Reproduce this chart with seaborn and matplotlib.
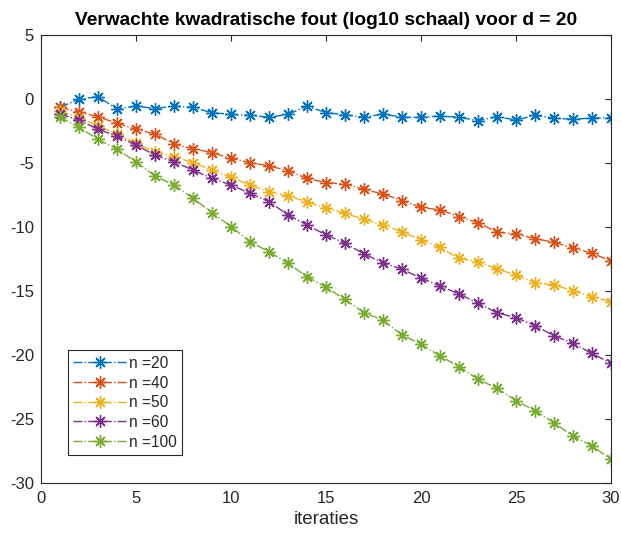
import numpy as np
import pandas as pd
import matplotlib
matplotlib.use("Agg")
import matplotlib.pyplot as plt
import seaborn as sns

iterations = list(range(1, 31))
labels = ["n =20", "n =40", "n =50", "n =60", "n =100"]
n20 = [-0.65, -0.02, 0.18, -0.78, -0.55, -0.75, -0.55, -0.65, -1.07, -1.2, -1.28, -1.43, -1.2, -0.55, -1.07,
       -1.23, -1.43, -1.17, -1.43, -1.43, -1.33, -1.43, -1.69, -1.38, -1.64, -1.28, -1.48, -1.59, -1.48, -1.48]
n40 = [-0.65, -1.02, -1.38, -1.9, -2.37, -2.73, -3.52, -3.88, -4.19, -4.64, -4.97, -5.23, -5.6, -6.2, -6.54,
       -6.64, -7.06, -7.42, -7.94, -8.46, -8.67, -9.19, -9.66, -10.4, -10.55, -10.9, -11.2, -11.66, -12.05, -12.66]
n50 = [-0.95, -1.45, -2.1, -2.75, -3.45, -4.15, -4.5, -4.97, -5.55, -6.12, -6.72, -7.24, -7.58, -8.02, -8.54,
       -8.93, -9.4, -9.84, -10.37, -11.0, -11.6, -12.45, -12.7, -13.28, -13.75, -14.35, -14.53, -14.97, -15.44, -15.83]
n60 = [-1.17, -1.64, -2.37, -2.89, -3.6, -4.38, -4.9, -5.55, -6.2, -6.72, -7.37, -8.02, -9.06, -9.84, -10.62,
       -11.27, -12.1, -12.8, -13.3, -14.0, -14.6, -15.23, -15.96, -16.7, -17.1, -17.7, -18.5, -19.1, -19.87, -20.65]
n100 = [-1.43, -2.21, -3.15, -3.93, -4.9, -6.02, -6.72, -7.76, -8.88, -9.97, -11.15, -11.93, -12.84, -13.88, -14.71,
        -15.65, -16.7, -17.27, -18.44, -19.14, -20.08, -20.9, -21.9, -22.6, -23.57, -24.35, -25.29, -26.33, -27.1, -28.15]
series = [n20, n40, n50, n60, n100]
colors = ["#0072BD", "#D95319", "#EDB120", "#7E2F8E", "#77AC30"]

sns.set_style("white")
plt.rcParams["font.family"] = ["Liberation Sans", "DejaVu Sans"]
plt.rcParams["axes.unicode_minus"] = False

fig = plt.figure(figsize=(6.21, 5.44), dpi=100)
ax = fig.add_axes([41 / 621, 61 / 544, 570 / 621, 448 / 544])

asterisk = (8, 2, 0)
for lab, vals, col in zip(labels, series, colors):
    df = pd.DataFrame({"iteraties": iterations, "y": vals})
    sns.lineplot(data=df, x="iteraties", y="y", ax=ax, color=col, marker=asterisk,
                 markersize=9, markeredgecolor=col, markerfacecolor=col, markeredgewidth=1.0,
                 linestyle="-.", linewidth=1.0, label=lab)

ax.set_xlim(0, 30)
ax.set_ylim(-30, 5)
ax.set_xticks(range(0, 31, 5))
ax.set_yticks(range(-30, 6, 5))
ax.tick_params(direction="in", length=4, labelsize=12, colors="#262626",
               top=True, right=True, width=0.8)
ax.tick_params(axis="x", pad=6)
ax.tick_params(axis="y", pad=5)
for s in ax.spines.values():
    s.set_color("#262626")
    s.set_linewidth(0.8)
ax.set_xlabel("iteraties", fontsize=13.5, color="#262626", labelpad=3)
ax.set_ylabel("")
ax.set_title("Verwachte kwadratische fout (log10 schaal) voor d = 20",
             fontsize=13.8, fontweight="bold", color="black", pad=7)

leg = ax.legend(loc="lower left", bbox_to_anchor=(27 / 570, 28 / 448), fontsize=11.2,
                frameon=True, fancybox=False, edgecolor="#262626", framealpha=1,
                handlelength=3.4, borderpad=0.35, labelspacing=0.3, handletextpad=0.15,
                borderaxespad=0.0)
leg.get_frame().set_linewidth(0.8)

fig.savefig("out.png", dpi=100)
